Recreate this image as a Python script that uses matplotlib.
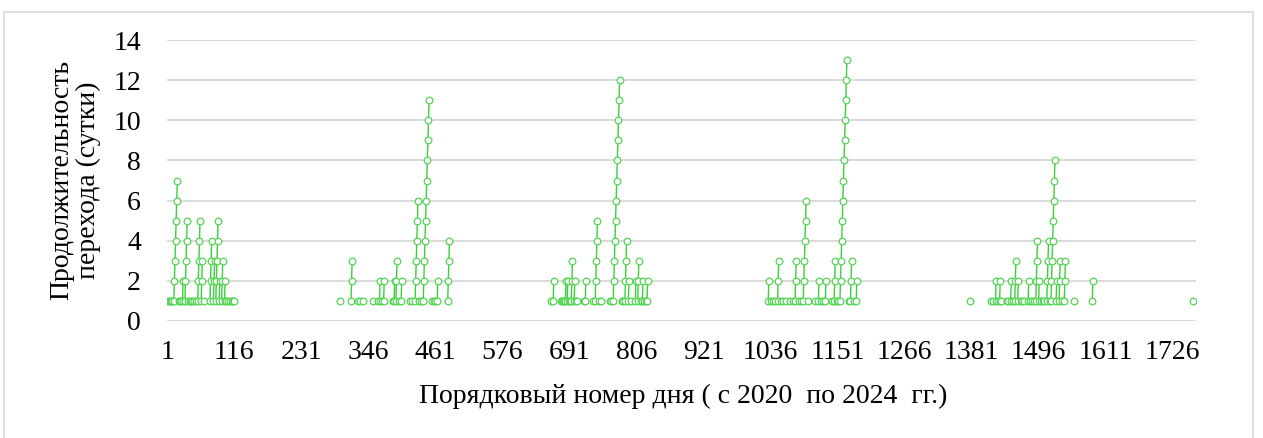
import numpy as np
import matplotlib
matplotlib.use("Agg")
import matplotlib.pyplot as plt
from matplotlib.patches import Rectangle

# day numbers where a transition run starts, and the run values day by day
run_start = [
    1, 3, 5, 7, 9, 12, 21, 23, 25, 27, 31, 37, 39, 41, 44, 47, 50, 53, 59, 63,
    74, 80, 84, 90, 94, 99, 102, 105, 108, 111, 114, 116,
    298, 316, 328, 332, 336, 353, 363, 365, 370, 372, 388, 390, 393, 399, 402,
    418, 421, 426, 433, 436, 440, 455, 458, 461, 464, 482,
    659, 663, 676, 678, 680, 682, 684, 687, 690, 692, 694, 699, 702, 704, 715,
    718, 731, 735, 742, 745, 760, 763, 766, 781, 783, 786, 792, 797, 804, 808,
    813, 816, 819, 822, 824,
    1032, 1037, 1041, 1044, 1048, 1054, 1058, 1062, 1070, 1074, 1078, 1084,
    1088, 1092, 1100, 1113, 1118, 1123, 1126, 1130, 1141, 1145, 1150, 1152,
    1155, 1170, 1173, 1180, 1183,
    1378, 1414, 1418, 1422, 1426, 1429, 1432, 1441, 1444, 1448, 1452, 1455,
    1460, 1465, 1468, 1471, 1478, 1482, 1485, 1488, 1491, 1496, 1500, 1503,
    1506, 1510, 1515, 1517, 1526, 1531, 1536, 1540, 1556, 1588, 1760,
]
run_values = [
    [1], [1], [1], [1], [1], [1, 2, 3, 4, 5, 6, 7], [1], [1], [1], [1, 2],
    [1, 2, 3, 4, 5], [1], [1], [1], [1], [1], [1], [1, 2, 3, 4, 5], [1, 2, 3], [1],
    [1, 2, 3, 4], [1, 2, 3], [1, 2, 3, 4, 5], [1, 2], [1, 2, 3], [1, 2], [1], [1],
    [1], [1], [1], [1],
    [1], [1, 2, 3], [1], [1], [1], [1], [1], [1, 2], [1], [1, 2], [1], [1, 2],
    [1, 2, 3], [1], [1, 2],
    [1], [1], [1, 2, 3, 4, 5, 6], [1], [1], [1, 2, 3, 4, 5, 6, 7, 8, 9, 10, 11],
    [1], [1], [1], [1, 2], [1, 2, 3, 4],
    [1], [1, 2], [1], [1], [1], [1], [1, 2], [1, 2], [1], [1], [1, 2, 3], [1, 2],
    [1], [1], [1],
    [1, 2], [1], [1, 2, 3, 4, 5], [1], [1], [1], [1],
    [1, 2, 3, 4, 5, 6, 7, 8, 9, 10, 11, 12], [1], [1], [1, 2, 3, 4], [1, 2], [1],
    [1, 2], [1, 2, 3],
    [1], [1, 2], [1], [1], [1, 2],
    [1, 2], [1], [1], [1], [1, 2, 3], [1], [1], [1], [1], [1], [1, 2, 3], [1],
    [1], [1, 2, 3, 4, 5, 6], [1], [1], [1, 2], [1], [1], [1, 2], [1], [1, 2, 3],
    [1], [1],
    [1, 2, 3, 4, 5, 6, 7, 8, 9, 10, 11, 12, 13], [1], [1, 2, 3], [1], [1, 2],
    [1], [1], [1], [1, 2], [1], [1, 2], [1], [1], [1], [1, 2], [1], [1, 2, 3],
    [1, 2], [1], [1], [1], [1, 2], [1], [1], [1], [1, 2, 3, 4], [1, 2], [1], [1],
    [1], [1, 2, 3, 4], [1], [1, 2, 3, 4, 5, 6, 7, 8], [1, 2], [1, 2, 3], [1],
    [1, 2, 3], [1], [1, 2], [1],
]
n_days = 1766
x_ticks = list(range(1, 1727, 115))
y_ticks = [0, 2, 4, 6, 8, 10, 12, 14]

x_label = "Порядковый номер дня ( с 2020  по 2024  гг.)"
y_label = "Продолжительность\nперехода (сутки)"


def build_series():
    """Daily series with NaN on days without a transition."""
    series = np.full(n_days + 1, np.nan)
    for start, vals in zip(run_start, run_values):
        series[start:start + len(vals)] = vals
    return np.arange(n_days + 1), series


def main():
    plt.rcParams['font.family'] = ['Liberation Serif', 'DejaVu Serif']
    W, H = 1263, 438
    fig = plt.figure(figsize=(W / 100, H / 100), dpi=100)
    fig.patches.append(Rectangle((4 / W, -0.05), 1249 / W, 1 - 12 / H + 0.05,
                                 transform=fig.transFigure, fill=False,
                                 edgecolor='#d9d9d9', linewidth=1.2))

    ax = fig.add_axes([167.4 / W, 1 - 321 / H, (1196 - 167.4) / W, 281 / H])
    days, series = build_series()
    ax.plot(days, series, color='#3ccf3c', linewidth=1.0, marker='o',
            markersize=4.8, markerfacecolor='white', markeredgecolor='#55d555',
            markeredgewidth=0.9, zorder=3)

    ax.set_xlim(1, n_days)
    ax.set_ylim(0, 14)
    ax.set_xticks(x_ticks)
    ax.set_yticks(y_ticks)
    ax.tick_params(length=0, labelsize=20)
    ax.tick_params(axis='y', pad=19)
    ax.tick_params(axis='x', pad=14)
    ax.grid(axis='y', color='#d9d9d9', linewidth=1.3)
    ax.set_axisbelow(True)
    for s in ax.spines.values():
        s.set_visible(False)

    fig.text(683 / W, 1 - 396 / H, x_label, ha='center', va='center', fontsize=20)
    fig.text(75 / W, 1 - 180 / H, y_label, ha='center', va='center',
             rotation=90, fontsize=20, linespacing=1.1, multialignment='center')

    fig.savefig('out.png', dpi=100)
    plt.close(fig)


if __name__ == "__main__":
    main()
